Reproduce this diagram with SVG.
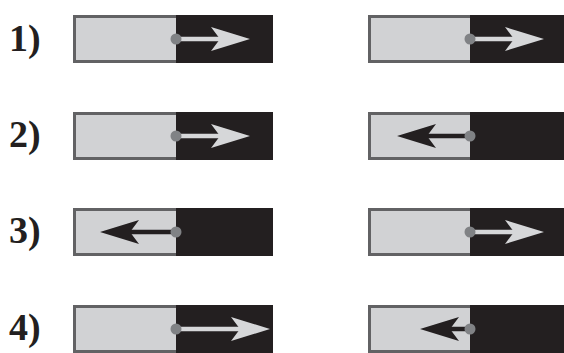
<svg xmlns="http://www.w3.org/2000/svg" xmlns:xlink="http://www.w3.org/1999/xlink" width="564" height="353" viewBox="0 0 564 353">
<style>
.lbl{font-family:"Liberation Serif","DejaVu Serif",serif;font-weight:bold;font-size:38px;fill:#231f20}
.light{fill:#d1d2d4;stroke:#626264;stroke-width:3}
.dark{fill:#231f20}
.dot{fill:#808285}
.shL{stroke:#d6d7d9;stroke-width:4.5}
.shD{stroke:#231f20;stroke-width:4.5}
.hL{fill:#d6d7d9}
.hD{fill:#231f20}
</style>
<defs>
<path id="head" d="M0,0 L-39,-12 L-30,0 L-39,12 Z"/>
</defs>
<rect width="564" height="353" fill="#fff"/>
<g id="labels">
<text class="lbl" x="9" y="51">1)</text>
<text class="lbl" x="9" y="147">2)</text>
<text class="lbl" x="9" y="243">3)</text>
<text class="lbl" x="9" y="340">4)</text>
</g>
<g id="box1L"><rect class="light" x="74.5" y="16.5" width="197" height="45"/><rect class="dark" x="176" y="15" width="97" height="48"/></g>
<g id="box1R"><rect class="light" x="369.5" y="16.5" width="197" height="45"/><rect class="dark" x="470" y="15" width="100" height="48"/></g>
<g id="box2L"><rect class="light" x="74.5" y="113.5" width="197" height="45"/><rect class="dark" x="176" y="112" width="97" height="48"/></g>
<g id="box2R"><rect class="light" x="369.5" y="113.5" width="197" height="45"/><rect class="dark" x="470" y="112" width="100" height="48"/></g>
<g id="box3L"><rect class="light" x="74.5" y="209.5" width="197" height="45"/><rect class="dark" x="176" y="208" width="97" height="48"/></g>
<g id="box3R"><rect class="light" x="369.5" y="209.5" width="197" height="45"/><rect class="dark" x="470" y="208" width="100" height="48"/></g>
<g id="box4L"><rect class="light" x="74.5" y="306.5" width="197" height="45"/><rect class="dark" x="176" y="305" width="97" height="48"/></g>
<g id="box4R"><rect class="light" x="369.5" y="306.5" width="197" height="45"/><rect class="dark" x="470" y="305" width="100" height="48"/></g>
<g id="connectors">
<line class="shL" x1="176" y1="39" x2="221" y2="39"/><use href="#head" class="hL" transform="translate(250,39)"/>
<line class="shL" x1="470" y1="39" x2="515" y2="39"/><use href="#head" class="hL" transform="translate(544,39)"/>
<line class="shL" x1="176" y1="136" x2="221" y2="136"/><use href="#head" class="hL" transform="translate(250,136)"/>
<line class="shD" x1="470" y1="136" x2="426" y2="136"/><use href="#head" class="hD" transform="translate(397,136) rotate(180)"/>
<line class="shD" x1="176" y1="232" x2="129" y2="232"/><use href="#head" class="hD" transform="translate(100,232) rotate(180)"/>
<line class="shL" x1="470" y1="232" x2="515" y2="232"/><use href="#head" class="hL" transform="translate(544,232)"/>
<line class="shL" x1="176" y1="329" x2="241" y2="329"/><use href="#head" class="hL" transform="translate(270,329)"/>
<line class="shD" x1="470" y1="329" x2="449" y2="329"/><use href="#head" class="hD" transform="translate(420,329) rotate(180)"/>
<circle class="dot" cx="176" cy="39" r="5.5"/>
<circle class="dot" cx="470" cy="39" r="5.5"/>
<circle class="dot" cx="176" cy="136" r="5.5"/>
<circle class="dot" cx="470" cy="136" r="5.5"/>
<circle class="dot" cx="176" cy="232" r="5.5"/>
<circle class="dot" cx="470" cy="232" r="5.5"/>
<circle class="dot" cx="176" cy="329" r="5.5"/>
<circle class="dot" cx="470" cy="329" r="5.5"/>
</g>
</svg>
